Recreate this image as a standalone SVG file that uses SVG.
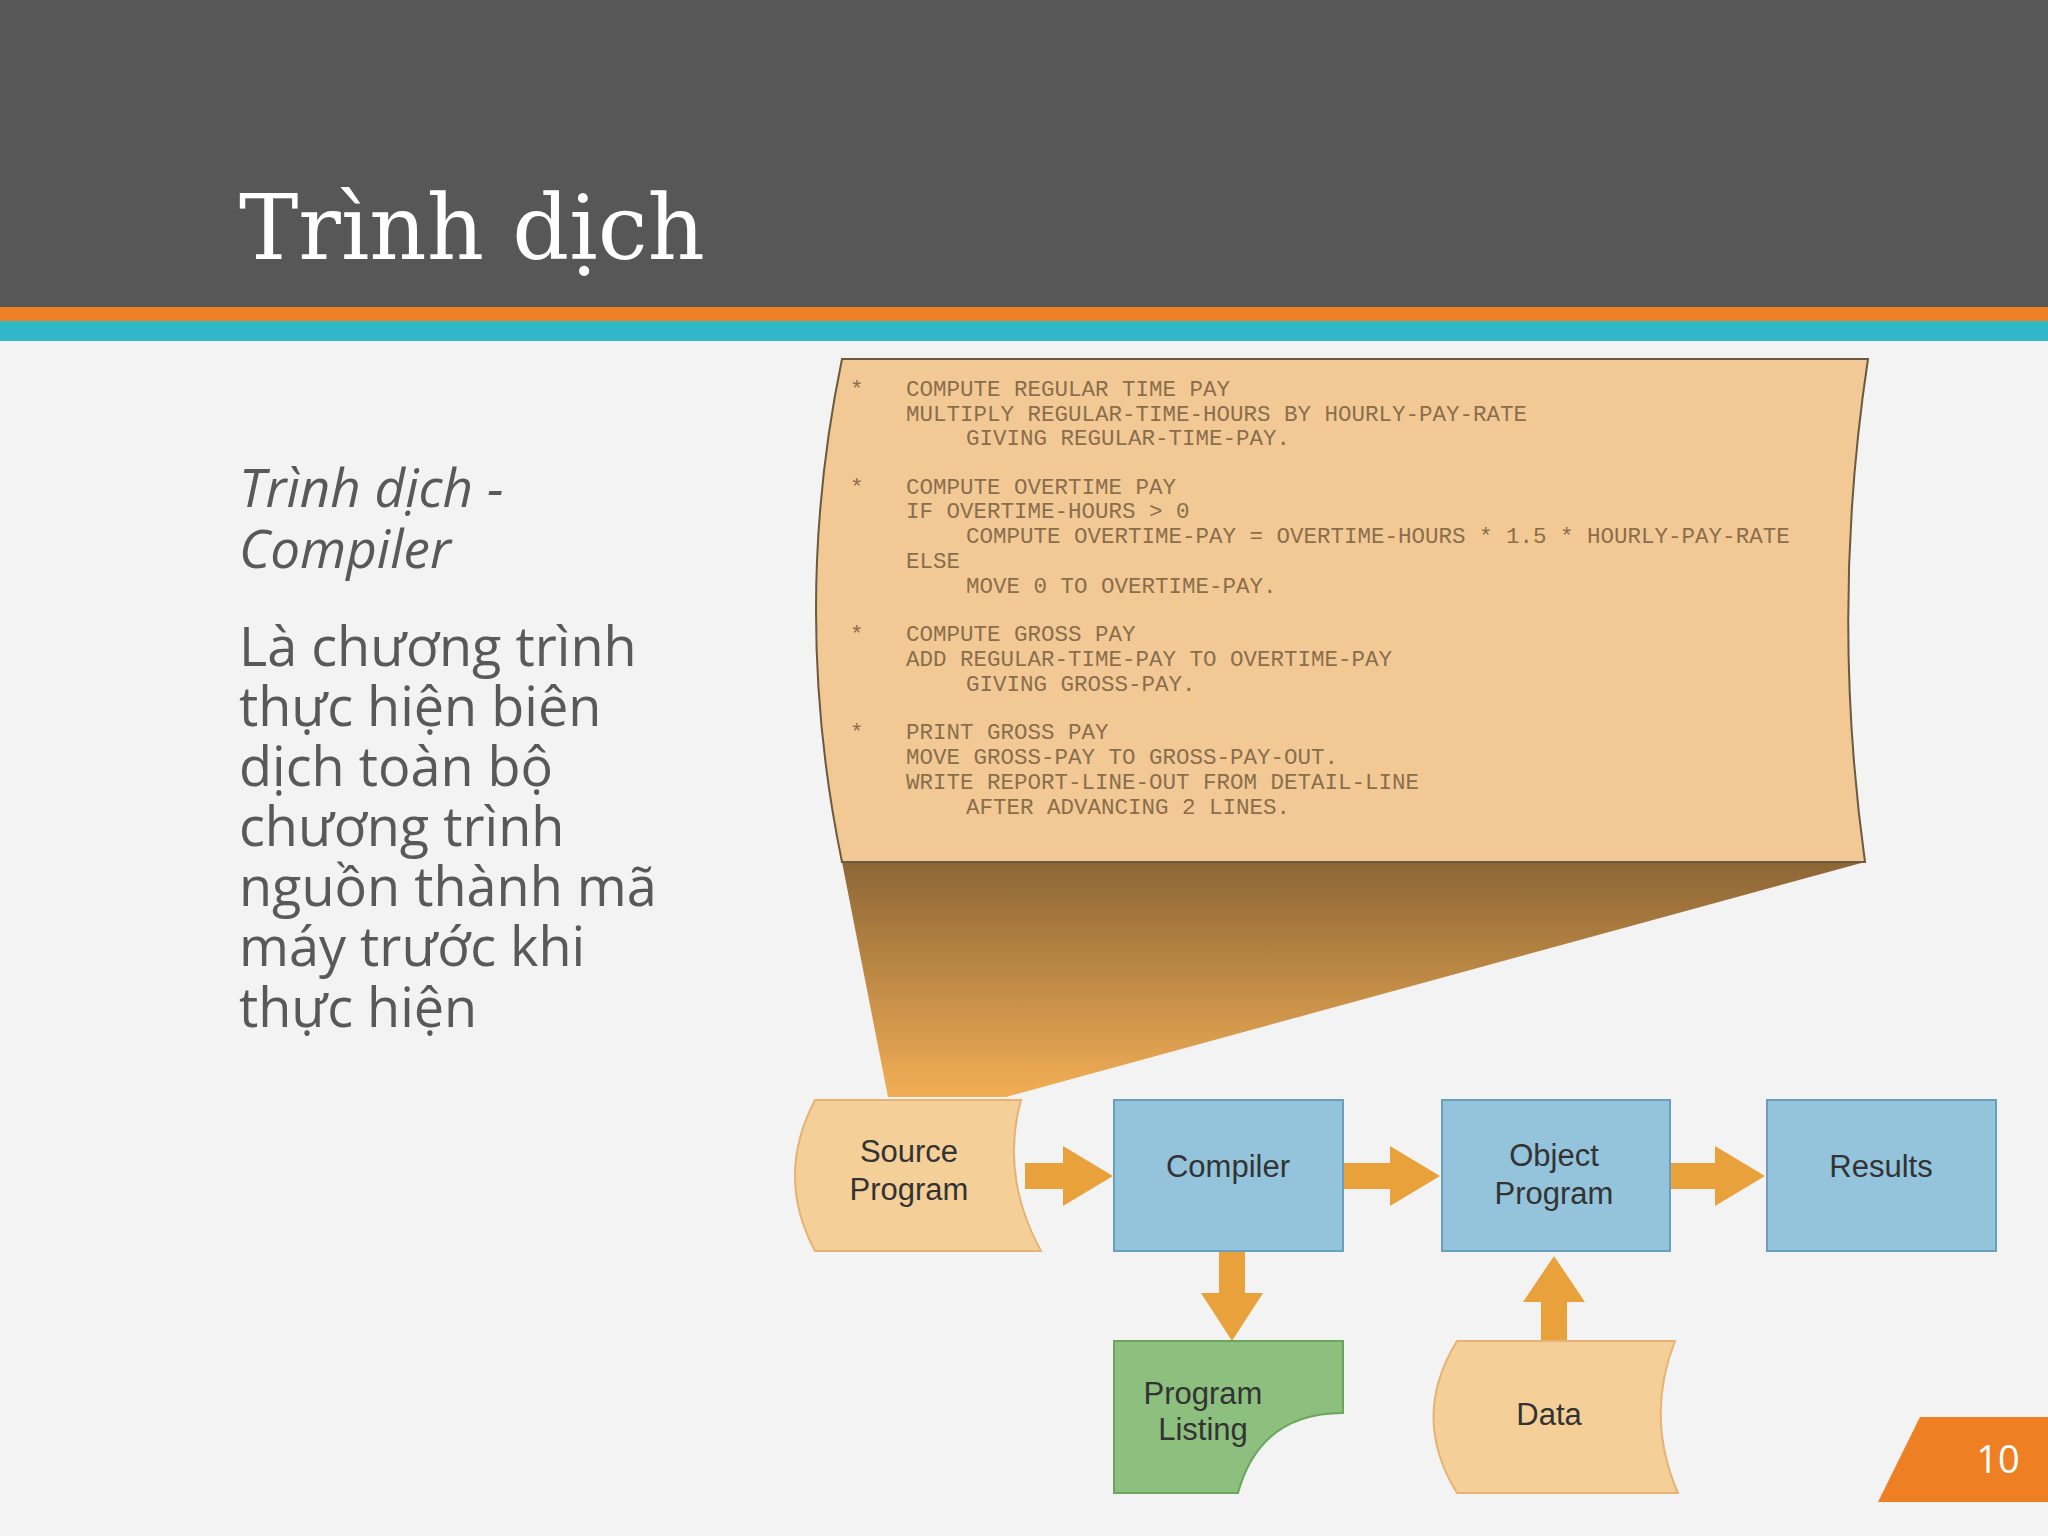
<svg xmlns="http://www.w3.org/2000/svg" width="2048" height="1536" viewBox="0 0 2048 1536">
<defs>
<linearGradient id="fun" x1="0" y1="0" x2="0" y2="1"><stop offset="0" stop-color="#8c6636"/><stop offset="1" stop-color="#f2ae55"/></linearGradient>
<style>
.code{font-family:"Liberation Mono","DejaVu Sans Mono",monospace;font-size:22.5px;fill:#8a6e4c}
.lbl{font-family:"Liberation Sans","Arial",sans-serif;font-size:31px;fill:#333;text-anchor:middle}
.body{font-family:"Open Sans","Noto Sans",sans-serif;font-size:54px;fill:#595959}
.arr{fill:#e9a23b}
.tan{fill:#f5cf98;stroke:#e6b374;stroke-width:2}
.blue{fill:#93c4dc;stroke:#6a9fbd;stroke-width:2}
</style>
</defs>
<rect width="2048" height="1536" fill="#f3f3f4"/>
<rect width="2048" height="307" fill="#575757"/>
<rect y="307" width="2048" height="14" fill="#ee7f22"/>
<rect y="321" width="2048" height="20" fill="#2fb8c8"/>
<text x="239" y="259" font-family="DejaVu Serif,serif" font-size="89" fill="#fff">Trình dịch</text>
<g class="body">
<text x="239" y="507" font-style="italic" font-size="53">Trình dịch -</text>
<text x="239" y="568" font-style="italic" font-size="53">Compiler</text>
<text x="239" y="666">Là chương trình</text>
<text x="239" y="726">thực hiện biên</text>
<text x="239" y="786">dịch toàn bộ</text>
<text x="239" y="846">chương trình</text>
<text x="239" y="906">nguồn thành mã</text>
<text x="239" y="966">máy trước khi</text>
<text x="239" y="1027">thực hiện</text>
</g>
<polygon points="842,862 1865,862 1006,1097 888,1097" fill="url(#fun)"/>
<g id="code">
<path d="M842,359 L1868,359 Q1830,610 1865,862 L842,862 Q790,610 842,359 Z" fill="#f2c995" stroke="#6b5a3e" stroke-width="2"/>
<g class="code">
<text x="850" y="396">*</text><text x="906" y="396">COMPUTE REGULAR TIME PAY</text>
<text x="906" y="421">MULTIPLY REGULAR-TIME-HOURS BY HOURLY-PAY-RATE</text>
<text x="966" y="445">GIVING REGULAR-TIME-PAY.</text>
<text x="850" y="494">*</text><text x="906" y="494">COMPUTE OVERTIME PAY</text>
<text x="906" y="518">IF OVERTIME-HOURS &gt; 0</text>
<text x="966" y="543">COMPUTE OVERTIME-PAY = OVERTIME-HOURS * 1.5 * HOURLY-PAY-RATE</text>
<text x="906" y="568">ELSE</text>
<text x="966" y="593">MOVE 0 TO OVERTIME-PAY.</text>
<text x="850" y="641">*</text><text x="906" y="641">COMPUTE GROSS PAY</text>
<text x="906" y="666">ADD REGULAR-TIME-PAY TO OVERTIME-PAY</text>
<text x="966" y="691">GIVING GROSS-PAY.</text>
<text x="850" y="739">*</text><text x="906" y="739">PRINT GROSS PAY</text>
<text x="906" y="764">MOVE GROSS-PAY TO GROSS-PAY-OUT.</text>
<text x="906" y="789">WRITE REPORT-LINE-OUT FROM DETAIL-LINE</text>
<text x="966" y="814">AFTER ADVANCING 2 LINES.</text>
</g>
</g>
<g id="connectors">
<polygon class="arr" points="1025,1163 1063,1163 1063,1146 1113,1176 1063,1206 1063,1189 1025,1189"/>
<polygon class="arr" points="1343,1163 1390,1163 1390,1146 1440,1176 1390,1206 1390,1189 1343,1189"/>
<polygon class="arr" points="1670,1163 1715,1163 1715,1146 1765,1176 1715,1206 1715,1189 1670,1189"/>
<polygon class="arr" points="1219,1251 1245,1251 1245,1293 1263,1293 1232,1341 1201,1293 1219,1293"/>
<polygon class="arr" points="1541,1341 1567,1341 1567,1302 1585,1302 1554,1256 1523,1302 1541,1302"/>
</g>
<g id="source">
<path class="tan" d="M815,1100 L1021,1100 Q1000,1176 1041,1251 L815,1251 Q775,1176 815,1100 Z"/>
<text class="lbl" x="909" y="1162">Source</text><text class="lbl" x="909" y="1200">Program</text>
</g>
<g id="compiler"><rect class="blue" x="1114" y="1100" width="229" height="151"/><text class="lbl" x="1228" y="1177">Compiler</text></g>
<g id="object"><rect class="blue" x="1442" y="1100" width="228" height="151"/><text class="lbl" x="1554" y="1166">Object</text><text class="lbl" x="1554" y="1204">Program</text></g>
<g id="results"><rect class="blue" x="1767" y="1100" width="229" height="151"/><text class="lbl" x="1881" y="1177">Results</text></g>
<g id="listing">
<path d="M1114,1341 L1343,1341 L1343,1413 Q1260,1413 1238,1493 L1114,1493 Z" fill="#8dbf7e" stroke="#6ca65e" stroke-width="2"/>
<text class="lbl" x="1203" y="1404">Program</text><text class="lbl" x="1203" y="1440">Listing</text>
</g>
<g id="data">
<path class="tan" d="M1457,1341 L1675,1341 Q1645,1417 1678,1493 L1457,1493 Q1410,1417 1457,1341 Z"/>
<text class="lbl" x="1549" y="1425">Data</text>
</g>
<polygon points="1920,1417 2048,1417 2048,1502 1878,1502" fill="#ee7f22"/>
<text x="1998" y="1473" font-family="Open Sans,sans-serif" font-size="38" fill="#fff" text-anchor="middle">10</text>
</svg>
